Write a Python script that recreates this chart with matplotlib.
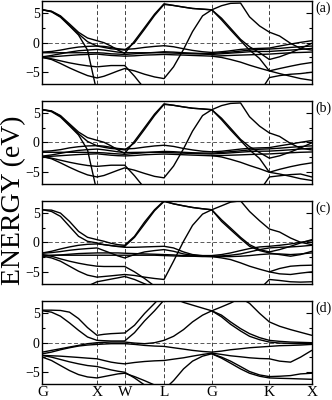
import numpy as np
import matplotlib
matplotlib.use("Agg")
import matplotlib.pyplot as plt

plt.rcParams['font.family'] = ['Liberation Serif', 'DejaVu Serif']

nan = np.nan

# high-symmetry points (path distance, 2pi/a units)
SYM_LABELS = ["G", "X", "W", "L", "G", "K", "X"]
SYM_POS = [0.0, 1.0, 1.508, 2.229, 3.105, 4.161, 4.939]

# k samples along the path
KGRID = [0.0, 0.165, 0.330, 0.495, 0.661, 0.826, 1.0,
         1.128, 1.257, 1.385, 1.508,
         1.688, 1.872, 2.055, 2.229,
         2.404, 2.587, 2.752, 2.936, 3.105,
         3.284, 3.450, 3.633, 3.798, 3.982, 4.161,
         4.349, 4.550, 4.734, 4.939]

PANEL_TAGS = ["(a)", "(b)", "(c)", "(d)"]

# ---------------- panel (a) bands (eV) ----------------
A_SP1 = [5.60, 5.37, 4.57, 3.20, 1.77, 0.80, 0.34, 0.00, -0.57, -1.26, -1.83, 0.29, 2.57, 4.86, 6.63,
         6.34, 6.06, 5.83, 5.71, 5.60, 6.30, 6.70, 6.75, 4.40, 2.85, 1.80, 1.14, -0.11, -0.97, -1.26]
A_SP2 = [5.60, 5.26, 4.34, 2.86, 1.31, -1.26, -8.5, -9, -9, -9, -9, -9, -9, -9, -9,
         -9, -9, -9, -9, -9, -9, -9, -9, -9, -8.5, -5.94, -5.60, -5.37, -5.26, -5.03]
A_SP3 = [5.60, 5.31, 4.46, 2.97, 1.49, 0.17, -0.57, -0.80, -1.03, -1.14, -1.26, 0.00, 2.29, 4.63, 6.51,
         6.34, 6.06, 5.83, 5.71, 5.60, 4.17, 2.46, 0.57, -0.69, -1.71, -2.86, -2.40, -1.71, -0.97, -0.11]
A_SP4 = [-2.51, -2.86, -3.54, -4.29, -4.97, -5.60, -6.00, -5.71, -5.26, -4.80, -4.40, -4.80, -5.37, -5.83, -6.11,
         -4.11, -1.14, 1.89, 4.57, 5.60, 3.89, 2.17, 0.34, -1.26, -2.69, -4.80, -5.26, -5.71, -6.11, -6.40]
A_SP5 = [-2.51, -2.74, -3.09, -3.43, -3.71, -3.94, -4.11, -4.00, -3.89, -3.89, -3.89, -5.71, -7.83, -9, -9,
         nan, nan, nan, nan, nan, nan, nan, nan, nan, nan, nan, nan, nan, nan, nan]
A_SP6 = [nan] * 19 + [-2.29, -2.51, -2.86, -3.31, -3.83, -4.34, -4.80, -4.40, -4.00, -3.66, -3.37]
A_D1 = [-1.60, -1.49, -1.26, -0.97, -0.74, -0.63, -0.57, -0.63, -0.80, -1.03, -1.14, -1.03, -0.80, -0.63, -0.51,
        -0.69, -1.03, -1.31, -1.54, -1.66, -1.54, -1.37, -1.14, -1.03, -0.97, -0.91, -0.57, -0.23, 0.06, 0.34]
A_D2 = [-1.71, -1.71, -1.71, -1.71, -1.71, -1.71, -1.71, -1.77, -1.89, -1.94, -2.00, -1.89, -1.77, -1.66, -1.54,
        -1.60, -1.71, -1.77, -1.83, -1.83, -1.71, -1.60, -1.43, -1.26, -1.14, -1.09, -0.97, -0.80, -0.69, -0.57]
A_D3 = [-2.40, -2.17, -1.89, -1.60, -1.37, -1.26, -1.14, -1.26, -1.43, -1.60, -1.71, -1.71, -1.71, -1.71, -1.71,
        -1.77, -1.83, -1.89, -1.94, -2.00, -1.89, -1.77, -1.66, -1.54, -1.49, -1.49, -1.37, -1.26, -1.14, -0.97]
A_D4 = [-2.51, -2.40, -2.29, -2.17, -2.06, -2.00, -1.94, -2.06, -2.17, -2.23, -2.29, -2.23, -2.11, -2.06, -2.00,
        -2.06, -2.11, -2.17, -2.23, -2.29, -2.23, -2.17, -2.11, -2.06, -2.00, -1.94, -1.83, -1.71, -1.66, -1.60]

# ---------------- panel (b) bands (eV) ----------------
B_SP1 = [5.55, 5.35, 4.55, 3.15, 1.75, 0.80, 0.34, 0.00, -0.60, -1.30, -1.90, 0.20, 2.50, 4.80, 6.55,
         6.30, 6.02, 5.80, 5.68, 5.55, 6.25, 6.62, 6.70, 4.35, 2.75, 1.60, 1.00, -0.20, -1.00, -1.30]
B_SP2 = [5.55, 5.22, 4.30, 2.80, 1.25, -1.30, -8.5, -9, -9, -9, -9, -9, -9, -9, -9,
         -9, -9, -9, -9, -9, -9, -9, -9, -9, -8.3, -5.90, -5.70, -5.50, -5.40, -5.90]
B_SP3 = [5.55, 5.30, 4.45, 2.95, 1.45, 0.15, -0.60, -0.85, -1.05, -1.15, -1.30, -0.10, 2.20, 4.55, 6.45,
         6.30, 6.02, 5.80, 5.68, 5.55, 4.10, 2.40, 0.50, -0.75, -1.75, -2.70, -2.30, -1.65, -0.95, -0.10]
B_SP4 = [-2.45, -2.80, -3.50, -4.25, -4.95, -5.55, -5.90, -5.65, -5.20, -4.75, -4.35, -4.75, -5.30, -5.80, -6.05,
         -4.05, -1.10, 1.90, 4.55, 5.55, 3.85, 2.10, 0.30, -1.30, -2.75, -5.10, -5.40, -5.80, -6.20, -6.50]
B_SP5 = [-2.45, -2.70, -3.05, -3.40, -3.70, -3.95, -4.10, -4.00, -3.90, -3.90, -3.90, -5.70, -7.80, -9, -9,
         nan, nan, nan, nan, nan, nan, nan, nan, nan, nan, nan, nan, nan, nan, nan]
B_SP6 = [nan] * 19 + [-2.25, -2.50, -2.90, -3.40, -3.95, -4.50, -5.10, -4.60, -4.15, -3.80, -3.50]
B_D1 = [-1.55, -1.45, -1.25, -0.95, -0.75, -0.62, -0.57, -0.65, -0.85, -1.05, -1.15, -1.05, -0.82, -0.62, -0.50,
        -0.70, -1.05, -1.30, -1.52, -1.62, -1.52, -1.35, -1.15, -1.02, -0.95, -0.90, -0.60, -0.30, 0.00, 0.30]
B_D2 = [-1.70, -1.70, -1.70, -1.70, -1.70, -1.72, -1.75, -1.80, -1.90, -1.98, -2.05, -1.90, -1.78, -1.65, -1.55,
        -1.60, -1.70, -1.78, -1.82, -1.85, -1.72, -1.60, -1.45, -1.30, -1.18, -1.12, -1.00, -0.85, -0.72, -0.60]
B_D3 = [-2.35, -2.15, -1.88, -1.60, -1.38, -1.25, -1.15, -1.28, -1.45, -1.62, -1.75, -1.72, -1.70, -1.70, -1.72,
        -1.78, -1.85, -1.90, -1.95, -2.00, -1.90, -1.80, -1.68, -1.58, -1.52, -1.50, -1.40, -1.28, -1.15, -1.00]
B_D4 = [-2.45, -2.38, -2.28, -2.18, -2.08, -2.02, -1.96, -2.08, -2.20, -2.28, -2.32, -2.25, -2.12, -2.05, -2.00,
        -2.05, -2.12, -2.18, -2.24, -2.30, -2.25, -2.20, -2.14, -2.08, -2.02, -1.98, -1.88, -1.78, -1.70, -1.65]

# ---------------- panel (c) bands (eV) ----------------
C_SP1 = [5.54, 5.48, 4.97, 3.56, 1.86, 0.85, 0.45, 0.17, -0.17, -0.40, -0.51, 1.02, 3.45, 5.54, 7.06,
         6.55, 6.21, 5.93, 5.71, 5.54, 6.21, 6.84, 7.06, 5.25, 3.67, 2.26, 1.75, 0.73, 0.00, -0.40]
C_SP3 = [5.54, 5.25, 4.41, 2.71, 1.02, 0.17, -0.11, -0.40, -0.56, -0.68, -0.68, 0.85, 3.11, 5.37, 6.95,
         6.55, 6.21, 5.93, 5.71, 5.54, 3.84, 2.43, 0.85, -0.40, -1.24, -1.64, -1.24, -0.68, -0.11, 0.45]
C_SP4 = [-2.37, -2.66, -3.22, -4.07, -4.92, -5.59, -5.93, -5.82, -5.71, -5.59, -5.48, -5.65, -5.93, -6.16, -6.33,
         -3.22, 0.17, 2.88, 4.80, 5.54, 3.56, 2.15, 0.62, -0.68, -1.41, -1.81, -2.09, -2.37, -2.09, -1.53]
C_SP5 = [-2.09, -2.37, -2.82, -3.22, -3.56, -3.84, -4.07, -4.12, -4.12, -4.12, -4.12, -5.03, -6.16, -7.46, -9,
         -9, -9, -9, -9, -9, -9, -9, -9, -9, -8.0, -6.33, -6.50, -6.72, -6.78, -6.72]
C_SP6 = [nan, nan, nan, nan, nan, -7.46, -6.72, -6.50, -6.27, -6.05, -5.82, -6.33, -7.06, -7.70, nan,
         nan, nan, nan, nan, nan, nan, nan, nan, nan, nan, -5.03, -5.37, -5.48, -5.25, -5.03]
C_D1 = [-1.81, -1.53, -1.13, -0.79, -0.51, -0.34, -0.28, -0.40, -0.56, -0.73, -0.85, -0.85, -0.79, -0.73, -0.68,
        -0.96, -1.64, -2.09, -2.26, -2.26, -2.09, -1.81, -1.41, -1.07, -0.79, -0.68, -0.51, -0.28, 0.00, 0.28]
C_D2 = [-1.86, -1.75, -1.58, -1.36, -1.19, -1.07, -0.96, -1.41, -1.86, -2.32, -2.66, -2.09, -1.64, -1.41, -1.24,
        -1.53, -1.98, -2.20, -2.32, -2.37, -2.32, -2.20, -1.98, -1.64, -1.24, -0.96, -0.85, -0.79, -0.68, -0.51]
C_D3 = [-2.37, -2.26, -2.15, -2.03, -1.92, -1.86, -1.81, -1.81, -1.81, -1.81, -1.86, -1.92, -1.98, -2.03, -2.09,
        -2.15, -2.26, -2.32, -2.37, -2.43, -2.43, -2.43, -2.37, -2.26, -2.09, -1.98, -1.98, -2.09, -1.98, -1.81]
C_D4 = [-2.20, -2.20, -2.20, -2.20, -2.20, -2.20, -2.20, -2.20, -2.20, -2.20, -2.20, -2.20, -2.20, -2.20, -2.26,
        -2.32, -2.37, -2.37, -2.43, -2.43, -2.66, -2.94, -3.50, -4.07, -4.58, -5.03, -4.46, -4.07, -3.95, -3.90]

# ---------------- panel (d) bands (eV) ----------------
D_SP1 = [5.54, 5.54, 5.49, 5.20, 4.11, 2.57, 1.26, 1.43, 1.54, 1.60, 1.66, 2.97, 4.97, 6.69, 8.40,
         7.60, 6.86, 6.40, 5.89, 5.43, 6.10, 6.75, 7.60, 6.70, 5.00, 3.54, 2.80, 2.23, 1.77, 1.26]
D_SP2 = [5.43, 5.20, 4.51, 3.37, 2.11, 0.97, 0.40, 0.34, 0.29, 0.29, 0.29, 1.71, 3.71, 5.43, 7.26,
         8.50, nan, nan, nan, nan, nan, nan, nan, nan, nan, nan, nan, nan, nan, nan]
D_SP3 = [-1.60, -1.31, -1.03, -0.74, -0.46, -0.17, 0.00, 0.06, 0.11, 0.11, 0.11, -0.06, -0.17, 0.00, 0.40,
         1.09, 2.23, 3.54, 4.69, 5.43, 4.69, 3.54, 2.40, 1.54, 0.86, 0.40, 0.23, 0.11, 0.06, 0.00]
D_SP4 = [nan] * 19 + [5.43, 4.40, 3.14, 2.00, 1.09, 0.51, 0.11, -0.06, -0.11, -0.17, -0.17]
D_D2 = [-1.89, -1.60, -1.20, -0.86, -0.57, -0.40, -0.29, -0.23, -0.17, -0.17, -0.17, -0.29, -0.46, -0.57, -0.63,
        -0.86, -1.09, -1.31, -1.49, -1.60, -1.43, -1.20, -1.03, -0.86, -0.74, -0.63, -0.51, -0.46, -0.40, -0.29]
D_D3 = [-2.17, -2.23, -2.29, -2.40, -2.51, -2.63, -2.74, -3.03, -3.31, -3.49, -3.60, -3.37, -3.20, -3.09, -3.03,
        -2.80, -2.57, -2.29, -2.00, -1.77, -2.00, -2.23, -2.40, -2.57, -2.69, -2.74, -3.14, -3.31, -2.46, -1.31]
D_D4 = [-2.17, -2.46, -2.86, -3.26, -3.60, -3.89, -4.06, -4.34, -4.63, -4.86, -5.03, -6.00, -7.20, -8.17, nan,
        nan, nan, nan, nan, nan, nan, nan, nan, nan, nan, nan, nan, nan, nan, nan]
D_D5 = [-2.46, -3.03, -3.89, -4.74, -5.43, -5.83, -6.00, -5.77, -5.54, -5.31, -5.20, -5.77, -6.46, -7.20, -8.17,
        nan, nan, nan, nan, nan, nan, nan, nan, nan, nan, nan, nan, nan, nan, nan]
D_D6 = [nan] * 14 + [-8.0, -6.46, -4.46, -3.14, -2.29, -1.89, -2.46, -3.14, -4.06, -4.91, -5.49, -5.77,
                     -5.71, -5.60, -5.31, -5.20]
D_D7 = [nan] * 19 + [-1.89, -2.63, -3.49, -4.46, -5.20, -5.71, -6.00, -6.06, -6.11, -6.17, -6.23]

PANELS = [
    [A_SP1, A_SP2, A_SP3, A_SP4, A_SP5, A_SP6, A_D1, A_D2, A_D3, A_D4],
    [B_SP1, B_SP2, B_SP3, B_SP4, B_SP5, B_SP6, B_D1, B_D2, B_D3, B_D4],
    [C_SP1, C_SP3, C_SP4, C_SP5, C_SP6, C_D1, C_D2, C_D3, C_D4],
    [D_SP1, D_SP2, D_SP3, D_SP4, D_D2, D_D3, D_D4, D_D5, D_D6, D_D7],
]

Y_TICKS = [-5, 0, 5]
Y_MINOR = [-2.5, 2.5]
Y_LIM = (-7.1, 7.1)

fig = plt.figure(figsize=(3.32, 4.0), dpi=100)
bottoms = [0.789, 0.540, 0.290, 0.039]
left, width, height = 0.128, 0.811, 0.2085

for i, bands in enumerate(PANELS):
    ax = fig.add_axes([left, bottoms[i], width, height])
    for b in bands:
        ax.plot(KGRID, b, color='black', lw=1.0, solid_capstyle='round')
    for p in SYM_POS[1:-1]:
        ax.axvline(p, color='0.25', lw=0.7, ls=(0, (4, 2.5)), zorder=0)
    ax.axhline(0, color='0.35', lw=0.7, ls=(0, (4, 2.5)), zorder=0)
    ax.set_xlim(SYM_POS[0], SYM_POS[-1])
    ax.set_ylim(*Y_LIM)
    ax.set_yticks(Y_TICKS)
    ax.set_yticks(Y_MINOR, minor=True)
    ax.tick_params(axis='y', which='both', direction='in', left=True, right=True,
                   labelsize=10, width=0.8, pad=2)
    ax.tick_params(axis='y', which='major', length=4)
    ax.tick_params(axis='y', which='minor', length=2.5)
    ax.set_xticks(SYM_POS)
    if i == len(PANELS) - 1:
        ax.set_xticklabels(SYM_LABELS, fontsize=11)
        ax.tick_params(axis='x', length=0, pad=1)
    else:
        ax.set_xticklabels([])
        ax.tick_params(axis='x', length=0)
    for s in ax.spines.values():
        s.set_linewidth(1.0)
    ax.text(1.015, 0.91, PANEL_TAGS[i], transform=ax.transAxes, fontsize=10,
            ha='left', va='center')

fig.text(0.04, 0.5, "ENERGY (eV)", rotation=90, fontsize=20, ha='center', va='center')

fig.savefig("out.png", dpi=100)
